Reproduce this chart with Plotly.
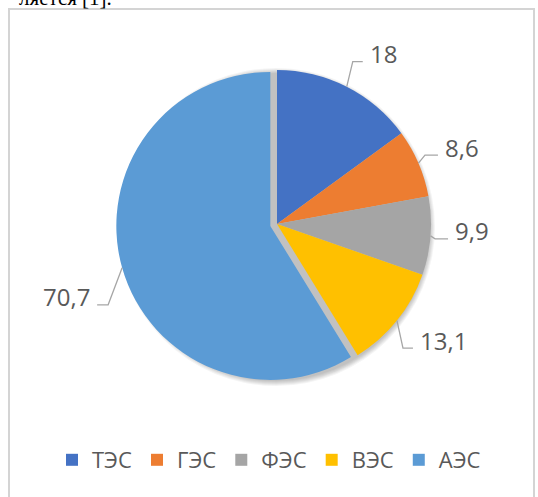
import math
import plotly.graph_objects as go

# Installed capacity by station type
stations = ["ТЭС", "ГЭС", "ФЭС", "ВЭС", "АЭС"]
values = [18, 8.6, 9.9, 13.1, 70.7]
value_labels = ["18", "8,6", "9,9", "13,1", "70,7"]

colors = ["#4472C4", "#ED7D31", "#A5A5A5", "#FFC000", "#5B9BD5"]
pulls = [0, 0, 0, 0, 0.045]

W, H = 538, 497
CX, CY, R = 277, 224, 154          # pie centre and radius, px
# elbow of each leader line relative to its slice edge, then horizontal run (px)
leader_elbow = [(6, -25), (6.5, -8), (4.5, 3), (6, 27.5), (-14, 37)]
leader_run = [10, 13, 13, 10, -11]
TEXT_GAP = 5
LABEL_SIZE = 24
INK = "#595959"


def px(x):
    return x / W


def py(y):
    return 1 - y / H


half = R * (1 + max(pulls))
fig = go.Figure(
    go.Pie(
        labels=stations,
        values=values,
        sort=False,
        direction="clockwise",
        rotation=0,
        pull=pulls,
        marker=dict(colors=colors, line=dict(width=0)),
        textinfo="none",
        hoverinfo="label+value",
        domain=dict(x=[px(CX - half), px(CX + half)],
                    y=[py(CY + half), py(CY - half)]),
    )
)

shapes = []
annotations = []

# soft drop shadow under the pie
for k in range(6):
    rr = R + 5 - k
    sx, sy = CX - 1, CY + 3
    shapes.append(dict(
        type="circle", xref="paper", yref="paper", layer="below",
        x0=px(sx - rr), x1=px(sx + rr), y0=py(sy + rr), y1=py(sy - rr),
        fillcolor="rgba(0,0,0,0.045)", line=dict(width=0),
    ))

total = sum(values)
start = 0.0
for v, lab, pull, (ex, ey), run in zip(values, value_labels, pulls, leader_elbow, leader_run):
    mid = math.radians((start + v / 2) / total * 360)
    start += v
    ux, uy = math.sin(mid), -math.cos(mid)
    cx, cy = CX + ux * pull * R, CY + uy * pull * R
    x0, y0 = cx + ux * R, cy + uy * R
    x1, y1 = x0 + ex, y0 + ey
    x2 = x1 + run
    shapes.append(dict(
        type="path", xref="paper", yref="paper",
        path=f"M {px(x0)} {py(y0)} L {px(x1)} {py(y1)} L {px(x2)} {py(y1)}",
        line=dict(color="#A6A6A6", width=1.3),
    ))
    right = run > 0
    annotations.append(dict(
        x=px(x2 + (TEXT_GAP if right else -TEXT_GAP)),
        y=py(y1 - 8),
        xref="paper", yref="paper",
        xanchor="left" if right else "right", yanchor="middle",
        text=lab, showarrow=False,
        font=dict(family="Open Sans", size=LABEL_SIZE, color=INK),
    ))

# chart frame
shapes.append(dict(
    type="rect", xref="paper", yref="paper",
    x0=px(9), x1=px(534), y0=py(H + 10), y1=py(9),
    line=dict(color="#D4D4D4", width=2), layer="below",
))

# tail of the preceding paragraph
annotations.append(dict(
    x=px(114), y=py(-2), xref="paper", yref="paper",
    xanchor="right", yanchor="middle",
    text="ляется [1].", showarrow=False,
    font=dict(family="Liberation Serif", size=21, color="#000000"),
))

fig.update_layout(
    width=W, height=H,
    margin=dict(l=0, r=0, t=0, b=0),
    paper_bgcolor="white", plot_bgcolor="white",
    shapes=shapes,
    annotations=annotations,
    showlegend=True,
    legend=dict(
        orientation="h", x=0.5, xanchor="center", y=py(460), yanchor="middle",
        font=dict(family="Open Sans", size=22, color=INK),
        traceorder="normal",
    ),
)

fig.write_html("out.html")
